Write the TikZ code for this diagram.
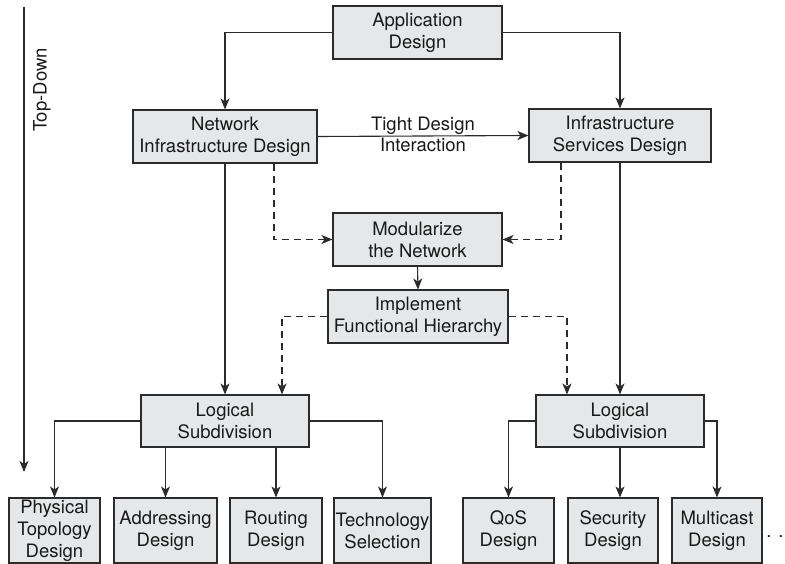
\documentclass[tikz,border=0pt]{standalone}
\usepackage{fontspec}
\setmainfont{TeX Gyre Heros}
\usetikzlibrary{arrows.meta}
\definecolor{boxfill}{HTML}{E6E7E8}
\definecolor{linec}{HTML}{2B2B2B}
\tikzset{
  box/.style={draw=linec, fill=boxfill, line width=1.1pt, align=center, inner sep=1pt, minimum height=53pt},
  lowbox/.style={box, minimum height=65pt},
  link/.style={draw=linec, line width=1.1pt, -{Stealth[length=11pt,width=9pt,inset=3pt]}},
  dlink/.style={link, dash pattern=on 7pt off 5pt},
}
\begin{document}
\begin{tikzpicture}[x=1pt, y=-1pt, font=\fontsize{18.5}{22}\selectfont, text=black!90]
    \useasboundingbox (0,0) rectangle (785,564);
    \node[box, minimum width=169pt] (app) at (417.5,32.5) {Application\\Design};
    \node[box, minimum width=184pt] (nid) at (225,136.5) {Network\\Infrastructure Design};
    \node[box, minimum width=182pt] (isd) at (620,135.5) {Infrastructure\\Services Design};
    \node[box, minimum width=169pt] (mod) at (417.5,239.5) {Modularize\\the Network};
    \node[box, minimum width=180pt] (imp) at (418,316.5) {Implement\\Functional Hierarchy};
    \node[box, minimum width=168pt, minimum height=52pt] (log1) at (225,421) {Logical\\Subdivision};
    \node[box, minimum width=168pt, minimum height=52pt] (log2) at (620,421) {Logical\\Subdivision};
    \node[lowbox, minimum width=91pt] (phys) at (54.5,530.5) {Physical\\Topology\\Design};
    \node[lowbox, minimum width=103pt] (addr) at (165.5,530.5) {Addressing\\Design};
    \node[lowbox, minimum width=92pt] (rout) at (276,530.5) {Routing\\Design};
    \node[lowbox, minimum width=97pt] (tech) at (382.5,530.5) {Technology\\Selection};
    \node[lowbox, minimum width=91pt] (qos) at (508.5,530.5) {QoS\\Design};
    \node[lowbox, minimum width=90pt] (sec) at (613,530.5) {Security\\Design};
    \node[lowbox, minimum width=90pt] (mul) at (717,530.5) {Multicast\\Design};
    \node (more) at (775,537) {. .};
    \node[rotate=90] (dir) at (42,90) {Top-Down};
    \coordinate (tdtop) at (24,7);
    \coordinate (tdend) at (24,472);

    \draw[link] (tdtop) -- (tdend);
    \draw[link] (app.west) -| (nid.north);
    \draw[link] (app.east) -| (isd.north);
    \draw[link] (nid.east) -- node[above=-2pt] (tight) {Tight Design} node[below=-2pt] (inter) {Interaction} (isd.west);
    \draw[link] (nid.south) -- (log1.north);
    \draw[link] (isd.south) -- (log2.north);
    \draw[dlink] ([xshift=49pt]nid.south) |- (mod.west);
    \draw[dlink] ([xshift=-59pt]isd.south) |- (mod.east);
    \draw[link] (mod.south) -- (imp.north);
    \draw[dlink] (imp.west) -| ([xshift=57pt]log1.north);
    \draw[dlink] (imp.east) -| ([xshift=-53pt]log2.north);
    \draw[link] (log1.west) -| (phys.north);
    \draw[link] (addr.north |- log1.south) -- (addr.north);
    \draw[link] (rout.north |- log1.south) -- (rout.north);
    \draw[link] (log1.east) -| (tech.north);
    \draw[link] (log2.west) -| (qos.north);
    \draw[link] (log2.south) -- (log2.south |- sec.north);
    \draw[link] (log2.east) -| (mul.north);
\end{tikzpicture}
\end{document}
